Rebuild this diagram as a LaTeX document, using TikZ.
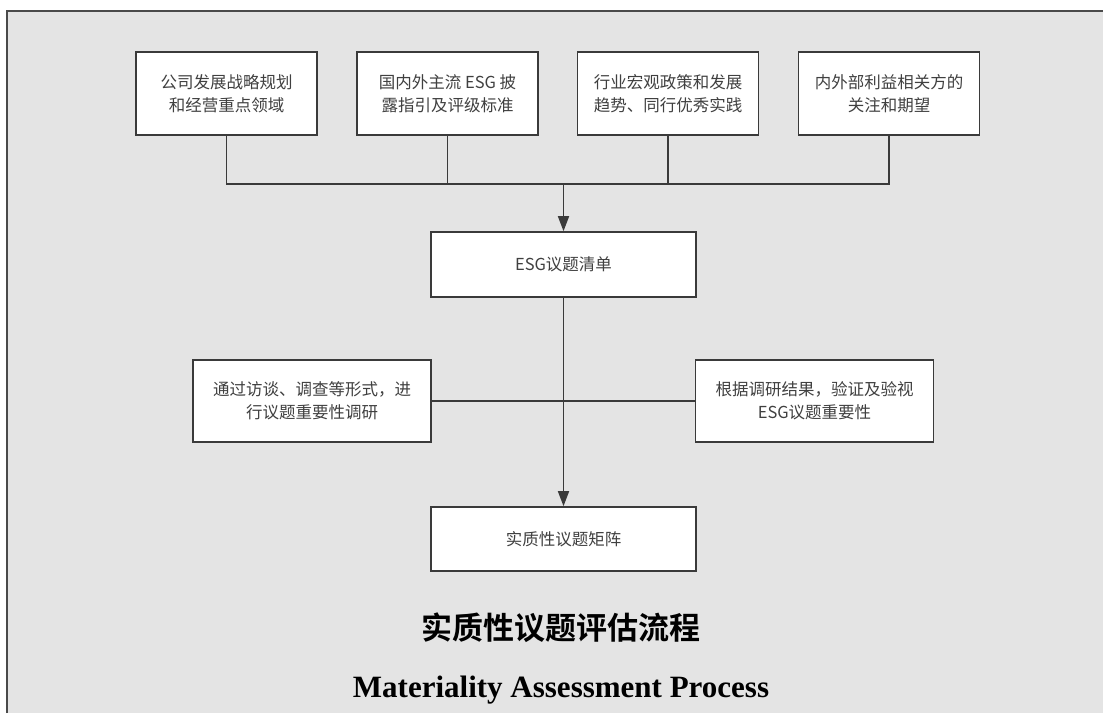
\documentclass[tikz,border=0pt]{standalone}
\usepackage{fontspec}
\usepackage{xcolor}
\usetikzlibrary{arrows.meta}
\newfontfamily\cjk{Noto Sans CJK SC}
\newfontfamily\cjkbold{Noto Sans CJK SC Bold}
\newfontfamily\entitle{Liberation Serif}

\definecolor{panelgray}{HTML}{E4E4E4}
\definecolor{framegray}{HTML}{4A4A4A}
\definecolor{linegray}{HTML}{3A3A3A}
\definecolor{textgray}{HTML}{404040}

\tikzset{
  topic/.style={draw=linegray, line width=1.6pt, fill=white, align=center,
    text=textgray, font=\cjk\fontsize{16.5}{23}\selectfont},
  topbox/.style={topic, minimum width=181pt, minimum height=83pt},
  midbox/.style={topic, minimum width=265pt, minimum height=65pt},
  sidebox/.style={topic, minimum width=238pt, minimum height=82pt},
  link/.style={draw=linegray, line width=1.6pt},
  flow/.style={link, -{Triangle[length=15pt,width=11pt]}}
}

\begin{document}
\begin{tikzpicture}[x=1pt,y=-1pt]

\useasboundingbox (0,0) rectangle (1103,713);
\fill[white] (0,0) rectangle (1103,713);
\fill[panelgray] (7,11) rectangle (1103,713);
\draw[framegray, line width=2pt] (7,713)--(7,11)--(1103,11);

% sources
\node[topbox] (plan) at (226.5,93.5) {公司发展战略规划\\和经营重点领域};
\node[topbox] (std) at (447.5,93.5) {国内外主流 ESG 披\\露指引及评级标准};
\node[topbox] (trend) at (668,93.5) {行业宏观政策和发展\\趋势、同行优秀实践};
\node[topbox] (stake) at (889,93.5) {内外部利益相关方的\\关注和期望};

% list and matrix
\node[midbox] (list) at (563.5,264.5) {ESG议题清单};
\node[sidebox] (survey) at (312,401) {通过访谈、调查等形式，进\\行议题重要性调研};
\node[sidebox] (verify) at (814.5,401) {根据调研结果，验证及验视\\ESG议题重要性};
\node[midbox, minimum height=64pt] (matrix) at (563.5,539) {实质性议题矩阵};

\coordinate (bus) at (563.5,184);

\draw[link] (plan.south) |- (bus) -| (stake.south);
\draw[link] (std.south) -- (std.south |- bus);
\draw[link] (trend.south) -- (trend.south |- bus);
\draw[flow] (bus) -- (list.north);

\draw[link] (survey.east) -- (verify.west);
\draw[flow] (list.south) -- (matrix.north);

% titles
\node[font=\cjkbold\fontsize{31}{31}\selectfont] (titlecn) at (561,628) {实质性议题评估流程};
\node[font=\entitle\bfseries\fontsize{31}{31}\selectfont, anchor=base] (titleen) at (561,697) {Materiality Assessment Process};

\end{tikzpicture}
\end{document}
